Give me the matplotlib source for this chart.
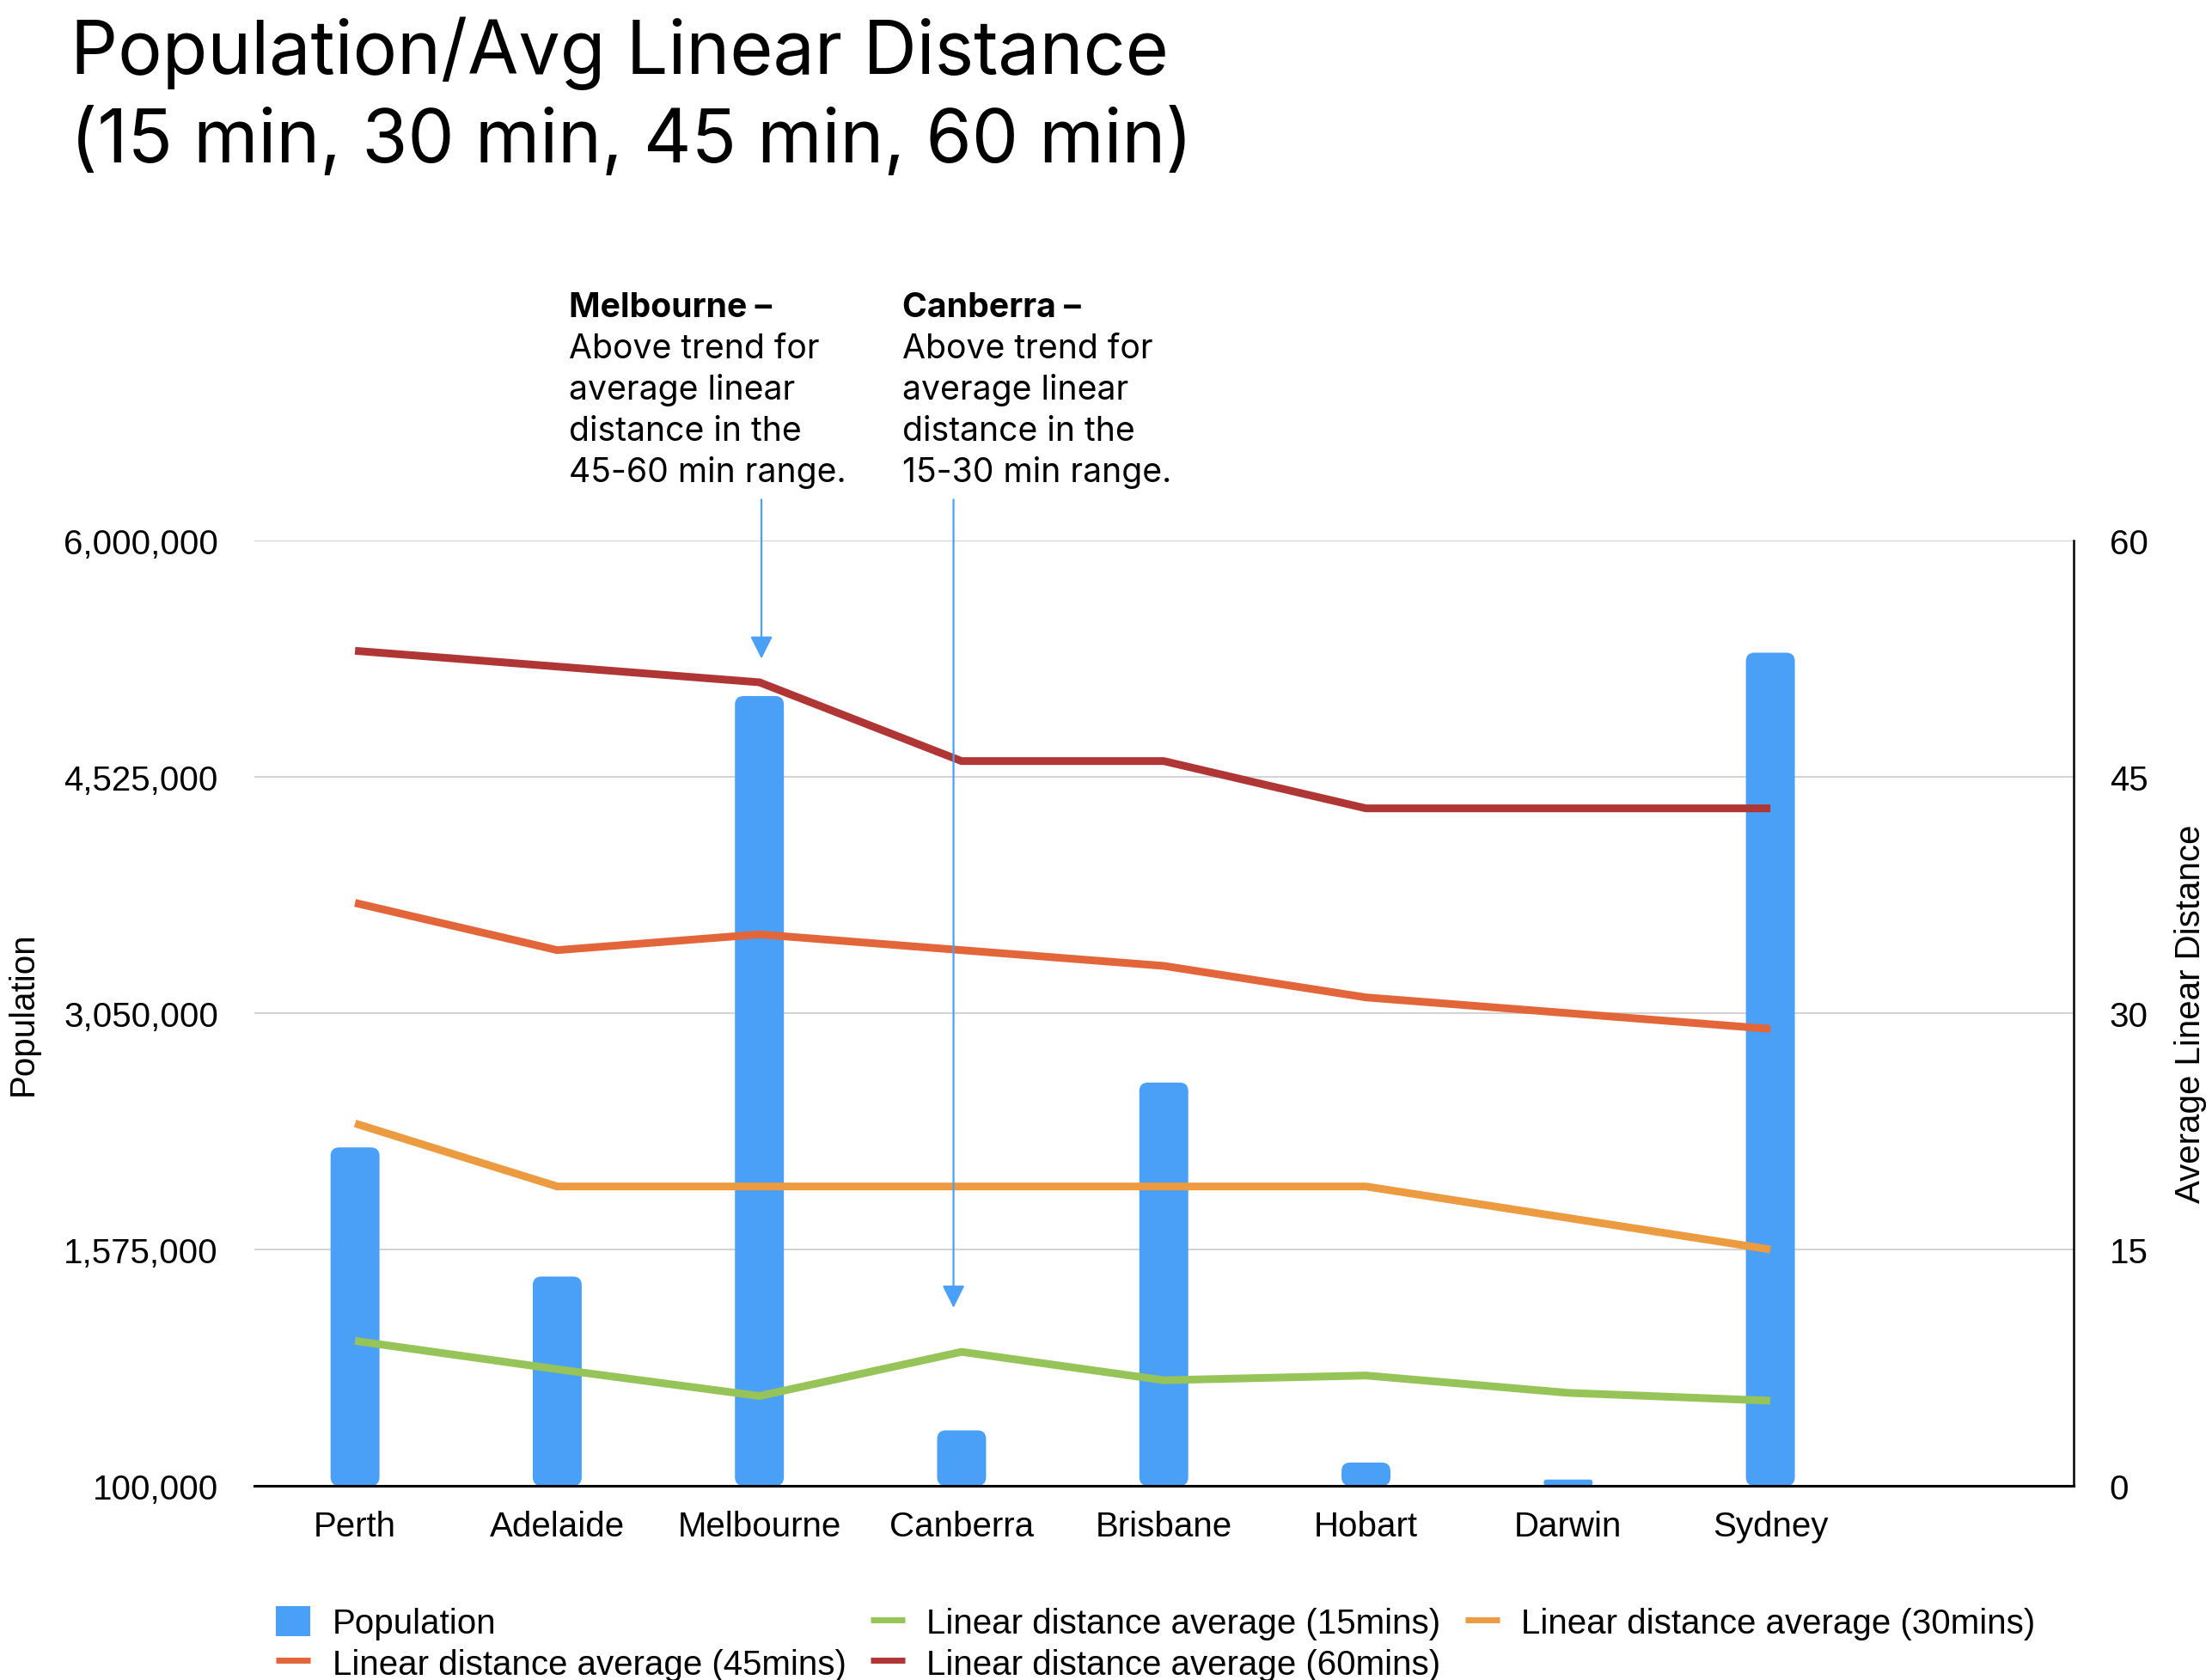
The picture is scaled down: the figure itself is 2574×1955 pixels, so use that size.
import matplotlib
matplotlib.use('Agg')
import matplotlib.pyplot as plt
from matplotlib.ticker import FixedLocator, FuncFormatter
from matplotlib.lines import Line2D
from matplotlib.patches import Patch, FancyBboxPatch

# ---------------- data ----------------
cities = ["Perth", "Adelaide", "Melbourne", "Canberra", "Brisbane", "Hobart", "Darwin", "Sydney"]
population = [2212000, 1406000, 5029000, 446000, 2617000, 245000, 139000, 5300000]
dist_15 = [9.2, 7.4, 5.7, 8.5, 6.7, 7.0, 5.9, 5.4]
dist_30 = [23, 19, 19, 19, 19, 19, 17, 15]
dist_45 = [37, 34, 35, 34, 33, 31, 30, 29]
dist_60 = [53, 52, 51, 46, 46, 43, 43, 43]
pop_ticks = [100000, 1575000, 3050000, 4525000, 6000000]
dist_ticks = [0, 15, 30, 45, 60]

title_lines = ["Population/Avg Linear Distance", "(15 min, 30 min, 45 min, 60 min)"]
series_labels = ["Population", "Linear distance average (15mins)", "Linear distance average (30mins)",
                 "Linear distance average (45mins)", "Linear distance average (60mins)"]
note_mel = ["Melbourne \u2013", "Above trend for", "average linear", "distance in the", "45-60 min range."]
note_can = ["Canberra \u2013", "Above trend for", "average linear", "distance in the", "15-30 min range."]

# ---------------- style ----------------
BLUE = "#4a9ff6"
C15 = "#97c459"
C30 = "#ec9b40"
C45 = "#e2663a"
C60 = "#b03535"
FS = 29
plt.rcParams['font.family'] = ['Liberation Sans', 'DejaVu Sans']

W, H = 2574, 1956
fig = plt.figure(figsize=(W / 100, H / 100), dpi=100)
fig.patch.set_facecolor('white')

L, R, T, B = 295.5, 2413, 630, 1730
ax = fig.add_axes([L / W, 1 - B / H, (R - L) / W, (B - T) / H])
ax2 = ax.twinx()

x = list(range(len(cities)))
base = pop_ticks[0]
bars = ax.bar(x, [p - base for p in population], bottom=base, width=0.242, color=BLUE, zorder=2)
ax.set_xlim(-0.5, 8.5)
ax.set_ylim(pop_ticks[0], pop_ticks[-1])

# rounded bar corners (same geometry as the bars drawn by ax.bar)
x_per_px = 9.0 / (R - L)
y_per_px = (pop_ticks[-1] - pop_ticks[0]) / (B - T)
aspect = y_per_px / x_per_px
r0 = 10 * x_per_px
for rect in bars:
    bx, by = rect.get_x(), rect.get_y()
    bw, bh = rect.get_width(), rect.get_height()
    r = min(r0, bw / 2, (bh / aspect) / 2)
    rect.set_visible(False)
    ax.add_patch(FancyBboxPatch((bx, by), bw, bh,
                                boxstyle=f"round,pad=0,rounding_size={r}",
                                mutation_aspect=aspect, facecolor=BLUE, edgecolor='none', zorder=2))

ax.yaxis.set_major_locator(FixedLocator(pop_ticks))
ax.yaxis.set_major_formatter(FuncFormatter(lambda v, p: f"{int(round(v)):,}"))
ax.set_xticks(x)
ax.set_xticklabels(cities)
ax.set_axisbelow(True)
ax.grid(axis='y', color='#cbcbcb', lw=1.2)
ax.grid(axis='x', visible=False)
ax.tick_params(axis='y', length=0, pad=30, labelsize=FS)
ax.tick_params(axis='x', length=0, pad=20, labelsize=FS)
for s in ['left', 'top', 'right']:
    ax.spines[s].set_visible(False)
ax.spines['bottom'].set_color('black')
ax.spines['bottom'].set_linewidth(2.2)
ax.spines['bottom'].set_zorder(5)

lw = 6.5
for vals, c in [(dist_60, C60), (dist_45, C45), (dist_30, C30), (dist_15, C15)]:
    ax2.plot(x, vals, color=c, lw=lw, solid_capstyle='butt', solid_joinstyle='miter', zorder=3)
ax2.set_ylim(dist_ticks[0], dist_ticks[-1])
ax2.yaxis.set_major_locator(FixedLocator(dist_ticks))
ax2.tick_params(axis='y', length=0, pad=30, labelsize=FS)
for s in ['left', 'top', 'bottom']:
    ax2.spines[s].set_visible(False)
ax2.spines['right'].set_color('black')
ax2.spines['right'].set_linewidth(1.8)

ax.set_ylabel("Population", fontsize=FS)
ax.yaxis.set_label_coords((27 - L) / (R - L), 0.5)
ax.yaxis.label.set_va('center')
ax2.set_ylabel("Average Linear Distance", fontsize=FS)
ax2.yaxis.set_label_coords((2549 - L) / (R - L), 0.5)
ax2.yaxis.label.set_va('center')
ax2.yaxis.label.set_rotation(90)

# ---------------- title ----------------
for i, line in enumerate(title_lines):
    fig.text(82 / W, 1 - (86 + 103 * i) / H, line, fontsize=62, family=['Inter', 'DejaVu Sans'],
             ha='left', va='baseline')

# ---------------- annotations ----------------
def note(lines, xpx):
    for i, line in enumerate(lines):
        fig.text(xpx / W, 1 - (369 + 48 * i) / H, line, fontsize=28.2,
                 family=['Inter', 'DejaVu Sans'], fontweight='bold' if i == 0 else 'normal',
                 ha='left', va='baseline')

note(note_mel, 662)
note(note_can, 1050)

arrow_top = 62.6
arrow_kw = dict(arrowstyle='-|>,head_length=0.8,head_width=0.4', color=BLUE, lw=1.6,
                mutation_scale=20, shrinkA=0, shrinkB=0)
ax2.annotate('', xy=(2.01, dist_60[2] + 1.5), xytext=(2.01, arrow_top),
             arrowprops=arrow_kw, annotation_clip=False)
ax2.annotate('', xy=(2.96, dist_15[3] + 2.8), xytext=(2.96, arrow_top),
             arrowprops=arrow_kw, annotation_clip=False)

# ---------------- legend ----------------
h_pop = Patch(facecolor=BLUE, edgecolor='none')
h15 = Line2D([], [], color=C15, lw=5, solid_capstyle='butt')
h30 = Line2D([], [], color=C30, lw=5, solid_capstyle='butt')
h45 = Line2D([], [], color=C45, lw=5, solid_capstyle='butt')
h60 = Line2D([], [], color=C60, lw=5, solid_capstyle='butt')
handles = [h_pop, h45, h15, h60, h30]
labels = [series_labels[0], series_labels[3], series_labels[1], series_labels[4], series_labels[2]]
fig.legend(handles, labels, loc='upper left', bbox_to_anchor=(321 / W, 1 - 1870 / H),
           ncol=3, frameon=False, fontsize=FS, handlelength=1.0, handleheight=0.97,
           handletextpad=0.63, columnspacing=0.7, labelspacing=0.2, borderpad=0, borderaxespad=0)

fig.savefig('out.png', dpi=100, facecolor='white')
